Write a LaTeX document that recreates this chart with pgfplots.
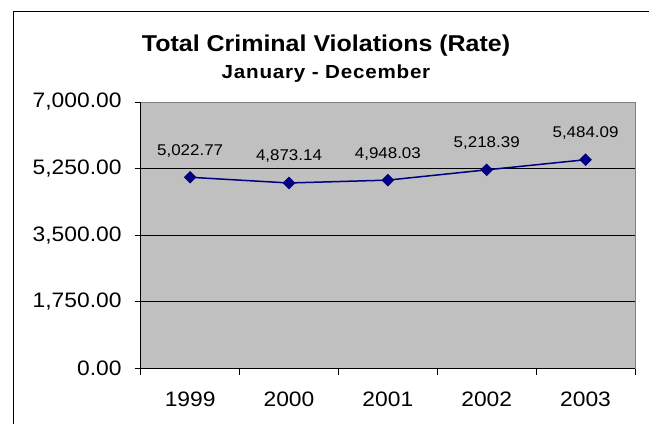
\documentclass[border=0pt]{standalone}
\usepackage{pgfplots}
\pgfplotsset{compat=1.18}
\usepackage{fontspec}
\setmainfont{Liberation Sans}[FakeStretch=1.09]

\definecolor{plotgray}{HTML}{C0C0C0}
\definecolor{boxgray}{HTML}{808080}
\definecolor{seriesblue}{HTML}{000080}

\pgfplotstableread{
x y lab
0 5022.77 5,022.77
1 4873.14 4,873.14
2 4948.03 4,948.03
3 5218.39 5,218.39
4 5484.09 5,484.09
}\ratedata

\begin{document}
\begin{tikzpicture}
	% outer chart frame (runs off the page on the right and bottom)
	\draw[black, line width=0.8bp] (13bp,-11bp) rectangle (700bp,-480bp);
	\node[anchor=base, font=\fontsize{23}{26}\selectfont\bfseries] at (326bp,-51bp) {Total Criminal Violations (Rate)};
	\node[anchor=base, font=\fontsize{19}{22}\selectfont\bfseries\addfontfeature{LetterSpace=4}] at (326bp,-78.5bp) {January - December};
	\begin{axis}[
		at={(140.7bp,-368.5bp)}, anchor=south west,
		scale only axis, width=494.3bp, height=266.5bp,
		clip=false,
		xmin=-0.5, xmax=4.5,
		ymin=0, ymax=7000,
		xtick={0,1,2,3,4},
		xticklabels={1999,2000,2001,2002,2003},
		minor xtick={-0.5,0.5,1.5,2.5,3.5,4.5},
		ytick={0,1750,3500,5250,7000},
		extra y ticks={0,1750,3500,5250,7000},
		extra y tick style={major tick length=6bp, grid=none, yticklabel=\empty},
		major tick length=0pt,
		minor tick length=6.7bp,
		tick align=outside,
		tick pos=left,
		tick style={black, line width=0.8bp},
		ymajorgrids,
		major grid style={black, line width=0.8bp},
		axis line style={boxgray, line width=0.8bp},
		axis background/.style={fill=plotgray},
		yticklabel style={anchor=east, inner sep=0pt, xshift=-19bp,
			font=\fontsize{21}{24}\selectfont,
			/pgf/number format/fixed, /pgf/number format/fixed zerofill,
			/pgf/number format/precision=2, /pgf/number format/1000 sep={,},
			/pgf/number format/assume math mode=true},
		xticklabel style={anchor=base, inner sep=0pt, yshift=-38.2bp,
			font=\fontsize{21}{24}\selectfont},
		nodes near coords,
		point meta=explicit symbolic,
		every node near coord/.append style={anchor=base, yshift=22bp,
			inner sep=0pt, text=black, font=\fontsize{15.6}{18}\selectfont},
		]
		\addplot[seriesblue, line width=1.5bp, mark=square*, mark size=3.7bp,
			mark options={rotate=45, solid}] table[x=x, y=y, meta=lab] {\ratedata};
		% left and bottom axis lines are black, the rest of the box is gray
		\draw[black, line width=0.8bp] (rel axis cs:0,1) -- (rel axis cs:0,0) -- (rel axis cs:1,0);
	\end{axis}
	\pgfresetboundingbox
	\path[use as bounding box] (0,0) rectangle (649bp,-424bp);
\end{tikzpicture}
\end{document}
